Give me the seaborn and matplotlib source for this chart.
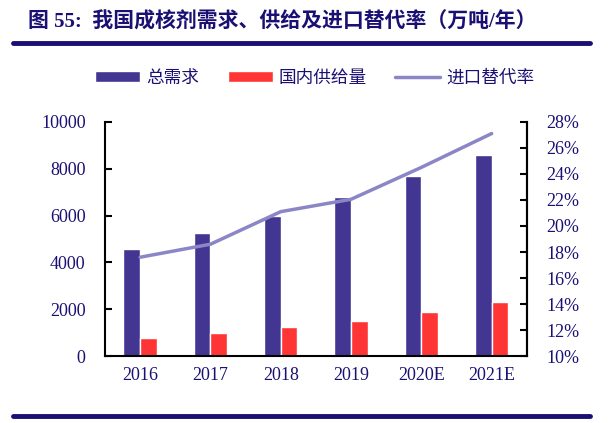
import matplotlib
matplotlib.use("Agg")
import matplotlib.pyplot as plt
import seaborn as sns
import pandas as pd
import numpy as np
from matplotlib.patches import Patch
from matplotlib.lines import Line2D

years = ["2016", "2017", "2018", "2019", "2020E", "2021E"]
total_demand = [4580, 5270, 6000, 6780, 7670, 8600]
domestic_supply = [790, 970, 1240, 1480, 1870, 2300]
import_sub_rate = [17.6, 18.6, 21.1, 22.05, 24.5, 27.1]
series_names = ["总需求", "国内供给量", "进口替代率"]
left_ticks = [0, 2000, 4000, 6000, 8000, 10000]
right_ticks = [10, 12, 14, 16, 18, 20, 22, 24, 26, 28]

navy = "#1a0f73"
c_blue = "#433692"
c_red = "#ff3535"
c_line = "#8b87c6"

sns.set_theme(style="white")
plt.rcParams["font.family"] = ["Liberation Serif", "Noto Sans CJK SC", "DejaVu Sans"]

df = pd.DataFrame({
    "year": years * 2,
    "value": total_demand + domestic_supply,
    "series": [series_names[0]] * len(years) + [series_names[1]] * len(years),
})

fig = plt.figure(figsize=(6.14, 4.23), dpi=100)
ax = fig.add_axes([0.171, 0.158, 0.687, 0.554])
sns.barplot(data=df, x="year", y="value", hue="series", order=years,
            hue_order=series_names[:2], palette=[c_blue, c_red],
            saturation=1, width=0.475, ax=ax, legend=False)
ax.set_xlim(-0.5, len(years) - 0.5)
ax.set_ylim(0, 10000)
ax.set_yticks(left_ticks)
ax.set_xlabel("")
ax.set_ylabel("")
ax.set_xticks(np.arange(len(years)))
ax.set_xticklabels(years)
ax.tick_params(axis="x", length=0, pad=8, labelsize=13, labelcolor=navy)
ax.set_xticks(np.arange(len(years) - 1) + 0.5, minor=True)
ax.tick_params(axis="x", which="minor", direction="in", length=5, width=1.5, color="black")
ax.tick_params(axis="y", direction="in", length=5, width=1.5, color="black",
               labelsize=13, labelcolor=navy, pad=14)
for s in ["left", "bottom", "right"]:
    ax.spines[s].set_color("black")
    ax.spines[s].set_linewidth(1.5)
ax.spines["top"].set_visible(False)

ax2 = ax.twinx()
ldf = pd.DataFrame({"x": np.arange(len(years)), "rate": import_sub_rate})
sns.lineplot(data=ldf, x="x", y="rate", color=c_line, linewidth=2.5, ax=ax2)
ax2.set_ylim(10, 28)
ax2.set_yticks(right_ticks)
ax2.set_yticklabels([f"{t}%" for t in right_ticks])
ax2.set_xlim(-0.5, len(years) - 0.5)
ax2.set_xlabel("")
ax2.set_ylabel("")
ax2.tick_params(axis="y", direction="in", length=5, width=1.5, color="black",
                labelsize=13, labelcolor=navy, pad=14)
for s in ["top", "left", "bottom"]:
    ax2.spines[s].set_visible(False)
ax2.spines["right"].set_color("black")
ax2.spines["right"].set_linewidth(1.5)

handles = [Patch(facecolor=c_blue), Patch(facecolor=c_red),
           Line2D([0], [0], color=c_line, linewidth=2.5)]
leg = fig.legend(handles, series_names, loc="center", bbox_to_anchor=(0.513, 0.816),
                 ncol=3, frameon=False, handlelength=2.55,
                 handleheight=0.55, columnspacing=1.6, handletextpad=0.35,
                 prop={"family": ["Noto Sans CJK SC"], "size": 12.7})
for t in leg.get_texts():
    t.set_color(navy)

fig.text(0.045, 0.947, "图 55:  我国成核剂需求、供给及进口替代率（万吨/年）",
         fontsize=15, fontweight="bold", color=navy, va="center", ha="left",
         family=["Liberation Serif", "Noto Sans CJK SC"])
fig.add_artist(Line2D([0.021, 0.961], [0.898, 0.898], color=navy, linewidth=3.5,
                      transform=fig.transFigure))
fig.add_artist(Line2D([0.021, 0.961], [0.017, 0.017], color=navy, linewidth=3.5,
                      transform=fig.transFigure))

fig.savefig("out.png", dpi=100)
